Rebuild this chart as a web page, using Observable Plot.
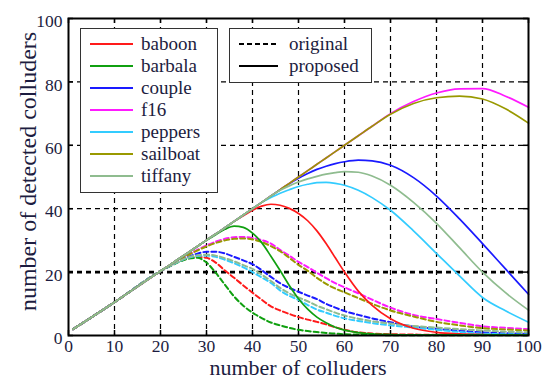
<!DOCTYPE html>
<html><head><meta charset="utf-8">
<script src="https://cdn.jsdelivr.net/npm/d3@7"></script>
<script src="https://cdn.jsdelivr.net/npm/@observablehq/plot@0.6"></script>
<style>body{margin:0;background:#fff}</style>
</head><body><div id="chart"></div>
<script>
// ---- data ----
const names = ["baboon", "barbala", "couple", "f16", "peppers", "sailboat", "tiffany"];
const colors = ["#ff1a1a", "#10a010", "#1a1aff", "#ff1aff", "#33ccff", "#999900", "#8fbc8f"];
const xTicks = [0, 10, 20, 30, 40, 50, 60, 70, 80, 90, 100];
const yTicks = [0, 20, 40, 60, 80, 100];
const xTitle = "number of colluders";
const yTitle = "number of detected colluders";
const styleLabels = ["original", "proposed"];
const colluders = [1,10,20,22,24,26,28,30,32,34,36,38,40,42,44,46,48,50,52,54,56,58,60,63,66,70,75,80,85,90,95,100];

// proposed (solid)
const baboonProposed  = [2,10.5,20.3,22.2,24.2,26.1,28.1,30.1,32,34,36,37.8,39.5,40.8,41.4,41.1,40.1,38.5,36.2,33,29,24.5,20,14,9.5,5.3,2.3,1,0.5,0.3,0.2,0.2];
const barbalaProposed = [2,10.5,20.3,22.2,24.2,26.1,28.1,30,31.8,33.5,34.5,34.1,32.3,29.3,25,20.5,15.8,11.6,8.3,5.8,4,2.6,1.7,0.9,0.5,0.3,0.2,0.2,0.2,0.2,0.2,0.2];
const coupleProposed  = [2,10.5,20.3,22.2,24.2,26.1,28.1,30.1,32,34,36,38,40,42,44,46,47.9,49.6,51.1,52.4,53.4,54.2,54.8,55.3,55.1,53.7,49.8,44,36.8,29,21,13];
const f16Proposed     = [2,10.5,20.3,22.2,24.2,26.1,28.1,30.1,32,34,36,38,40,42,44,46,48,50,52,54,56,58,60,63,66,70,73.8,76.5,77.8,77.9,75.5,72];
const peppersProposed = [2,10.5,20.3,22.2,24.2,26.1,28.1,30.1,32,34,36,38,40,42,43.5,44.9,46,47,47.7,48.2,48.3,48,47.4,45.8,43.5,39.5,33,25.9,18.8,12,7.8,4.2];
const sailboatProposed= [2,10.5,20.3,22.2,24.2,26.1,28.1,30.1,32,34,36,38,40,42,44,46,48,50,52,54,56,58,60,63,66,69.8,73.2,75,75.5,74.6,71.5,67];
const tiffanyProposed = [2,10.5,20.3,22.2,24.2,26.1,28.1,30.1,32,34,36,38,40,42,44,45.8,47.2,48.4,49.4,50.2,50.9,51.4,51.7,51.5,50.3,47.4,42,35.4,27.7,20,13.5,8];

// original (dashed)
const baboonOriginal  = [2,10.5,20.3,21.9,23.3,24.3,24.8,24.5,23,20.5,18.2,15.8,13.5,11.3,9.2,7.9,6.8,5.8,5,4.3,3.5,2.6,1.8,1,0.6,0.4,0.3,0.2,0.2,0.2,0.2,0.2];
const barbalaOriginal = [2,10.5,20.3,21.8,23.2,24.2,24.5,23,19.8,16,12.3,9.4,7.2,5.5,4.1,3.2,2.4,1.8,1.4,1.1,0.8,0.6,0.4,0.3,0.2,0.1,0.1,0.1,0.1,0.1,0.1,0.1];
const coupleOriginal  = [2,10.5,20.3,21.9,23.5,24.8,25.8,26.4,26.4,25.9,24.8,23.7,22.5,20.6,18.5,16.5,15,13.8,12.6,11.5,10,8.8,7.7,6.5,5.4,4.2,2.8,2.1,1.5,1,0.7,0.5];
const f16Original     = [2,10.5,20.3,22.1,23.9,25.5,27,28.4,29.6,30.5,31,31.1,30.8,30.1,29,27,25.2,23.2,21.6,19.8,18.1,16.5,15.2,13.3,11.3,8.8,6.5,5.2,4,2.9,2.4,2];
const peppersOriginal = [2,10.5,20.3,21.9,23.3,24.5,25.1,25.2,24.8,23.9,22.8,21.5,20,18.3,16.6,14.2,12.5,11.2,9.6,8.2,7.2,6.2,5.4,4.6,3.9,3.2,2.5,1.8,1.1,0.6,0.4,0.3];
const sailboatOriginal= [2,10.5,20.3,22.1,23.9,25.4,26.8,28.1,29.2,30,30.5,30.6,30.3,29.5,28.2,26.6,24.5,22.3,20.4,18.2,16.3,14.8,13.6,11.8,10,7.9,6,4.3,3.2,2.3,1.9,1.6];
const tiffanyOriginal = [2,10.5,20.3,21.9,23.4,24.6,25.3,25.5,25.2,24.4,23.4,22.2,21,19.2,17.2,15,13.3,12,10.8,9.4,8.3,7.2,6.3,5.3,4.5,3.8,3,2.5,2,1.6,1.2,1];

const proposed = [baboonProposed, barbalaProposed, coupleProposed, f16Proposed, peppersProposed, sailboatProposed, tiffanyProposed];
const original = [baboonOriginal, barbalaOriginal, coupleOriginal, f16Original, peppersOriginal, sailboatOriginal, tiffanyOriginal];

function tidy(list) {
  const out = [];
  list.forEach((vals, k) => vals.forEach((v, i) => out.push({name: names[k], x: colluders[i], y: v})));
  return out;
}
const propData = tidy(proposed);
const origData = tidy(original);

// ---- layout ----
const W = 544, H = 380, mL = 68, mR = 16, mT = 18, mB = 45;
const innerW = W - mL - mR, innerH = H - mT - mB;
const textColor = "#1c1c40";
const font = "'Liberation Serif', 'DejaVu Serif', serif";

const inner = (t) => t.filter(d => d !== t[0] && d !== t[t.length - 1]);

const svg = Plot.plot({
  width: W, height: H,
  marginLeft: mL, marginRight: mR, marginTop: mT, marginBottom: mB,
  style: {fontFamily: font, fontSize: "17.5px", color: textColor, background: "#fff"},
  x: {domain: [0, 100]},
  y: {domain: [0, 100]},
  color: {domain: names, range: colors},
  marks: [
    Plot.gridX(inner(xTicks), {stroke: "#000", strokeOpacity: 1, strokeWidth: 1.2, strokeDasharray: "5,4"}),
    Plot.gridY(inner(yTicks).filter(d => d !== 20), {stroke: "#000", strokeOpacity: 1, strokeWidth: 1.2, strokeDasharray: "5,4"}),
    Plot.gridY([20], {stroke: "#000", strokeOpacity: 1, strokeWidth: 2.6, strokeDasharray: "5,4"}),
    Plot.tickX(xTicks, {x: d => d, insetTop: innerH - 5, stroke: "#000", strokeWidth: 1.5}),
    Plot.tickX(xTicks, {x: d => d, insetBottom: innerH - 5, stroke: "#000", strokeWidth: 1.5}),
    Plot.tickY(yTicks, {y: d => d, insetRight: innerW - 5, stroke: "#000", strokeWidth: 1.5}),
    Plot.tickY(yTicks, {y: d => d, insetLeft: innerW - 5, stroke: "#000", strokeWidth: 1.5}),
    Plot.line(origData, {x: "x", y: "y", z: "name", stroke: "name", strokeWidth: 2, strokeDasharray: "5,3", curve: "monotone-x"}),
    Plot.line(propData, {x: "x", y: "y", z: "name", stroke: "name", strokeWidth: 1.7, curve: "monotone-x"}),
    Plot.frame({stroke: "#000", strokeWidth: 2}),
    Plot.axisX(xTicks, {tickSize: 0, tickPadding: 4, label: null}),
    Plot.axisY(yTicks, {tickSize: 0, tickPadding: 6, label: null, dy: 3})
  ]
});

const root = d3.select(svg);
// ---- axis titles ----
root.append("text").attr("x", mL + innerW / 2).attr("y", 375)
  .attr("text-anchor", "middle").attr("font-family", font).attr("font-size", 22)
  .attr("fill", textColor).text(xTitle);
root.append("text").attr("transform", "translate(36,171.5) rotate(-90)")
  .attr("text-anchor", "middle").attr("font-family", font).attr("font-size", 24)
  .attr("fill", textColor).text(yTitle);

// ---- legends (inside the plot) ----
const g = root.append("g").attr("font-family", font).attr("font-size", 19)
  .attr("fill", textColor).attr("text-anchor", "start");
g.append("rect").attr("x", 80.5).attr("y", 28.5).attr("width", 137).attr("height", 164)
  .attr("fill", "#fff").attr("stroke", "#333").attr("stroke-width", 1);
names.forEach((n, i) => {
  const y = 44 + i * 22;
  g.append("line").attr("x1", 90).attr("x2", 133).attr("y1", y).attr("y2", y)
    .attr("stroke", colors[i]).attr("stroke-width", 2);
  g.append("text").attr("x", 141).attr("y", y).attr("dy", "0.32em").text(n);
});
g.append("rect").attr("x", 229.5).attr("y", 28.5).attr("width", 142).attr("height", 54)
  .attr("fill", "#fff").attr("stroke", "#333").attr("stroke-width", 1);
styleLabels.forEach((label, i) => {
  const y = 44 + i * 22;
  const l = g.append("line").attr("x1", 239).attr("x2", 278).attr("y1", y).attr("y2", y)
    .attr("stroke", "#000").attr("stroke-width", 2);
  if (i === 0) l.attr("stroke-dasharray", "5,3");
  g.append("text").attr("x", 289).attr("y", y).attr("dy", "0.32em").text(label);
});

document.getElementById("chart").appendChild(svg);
</script>
</body></html>
